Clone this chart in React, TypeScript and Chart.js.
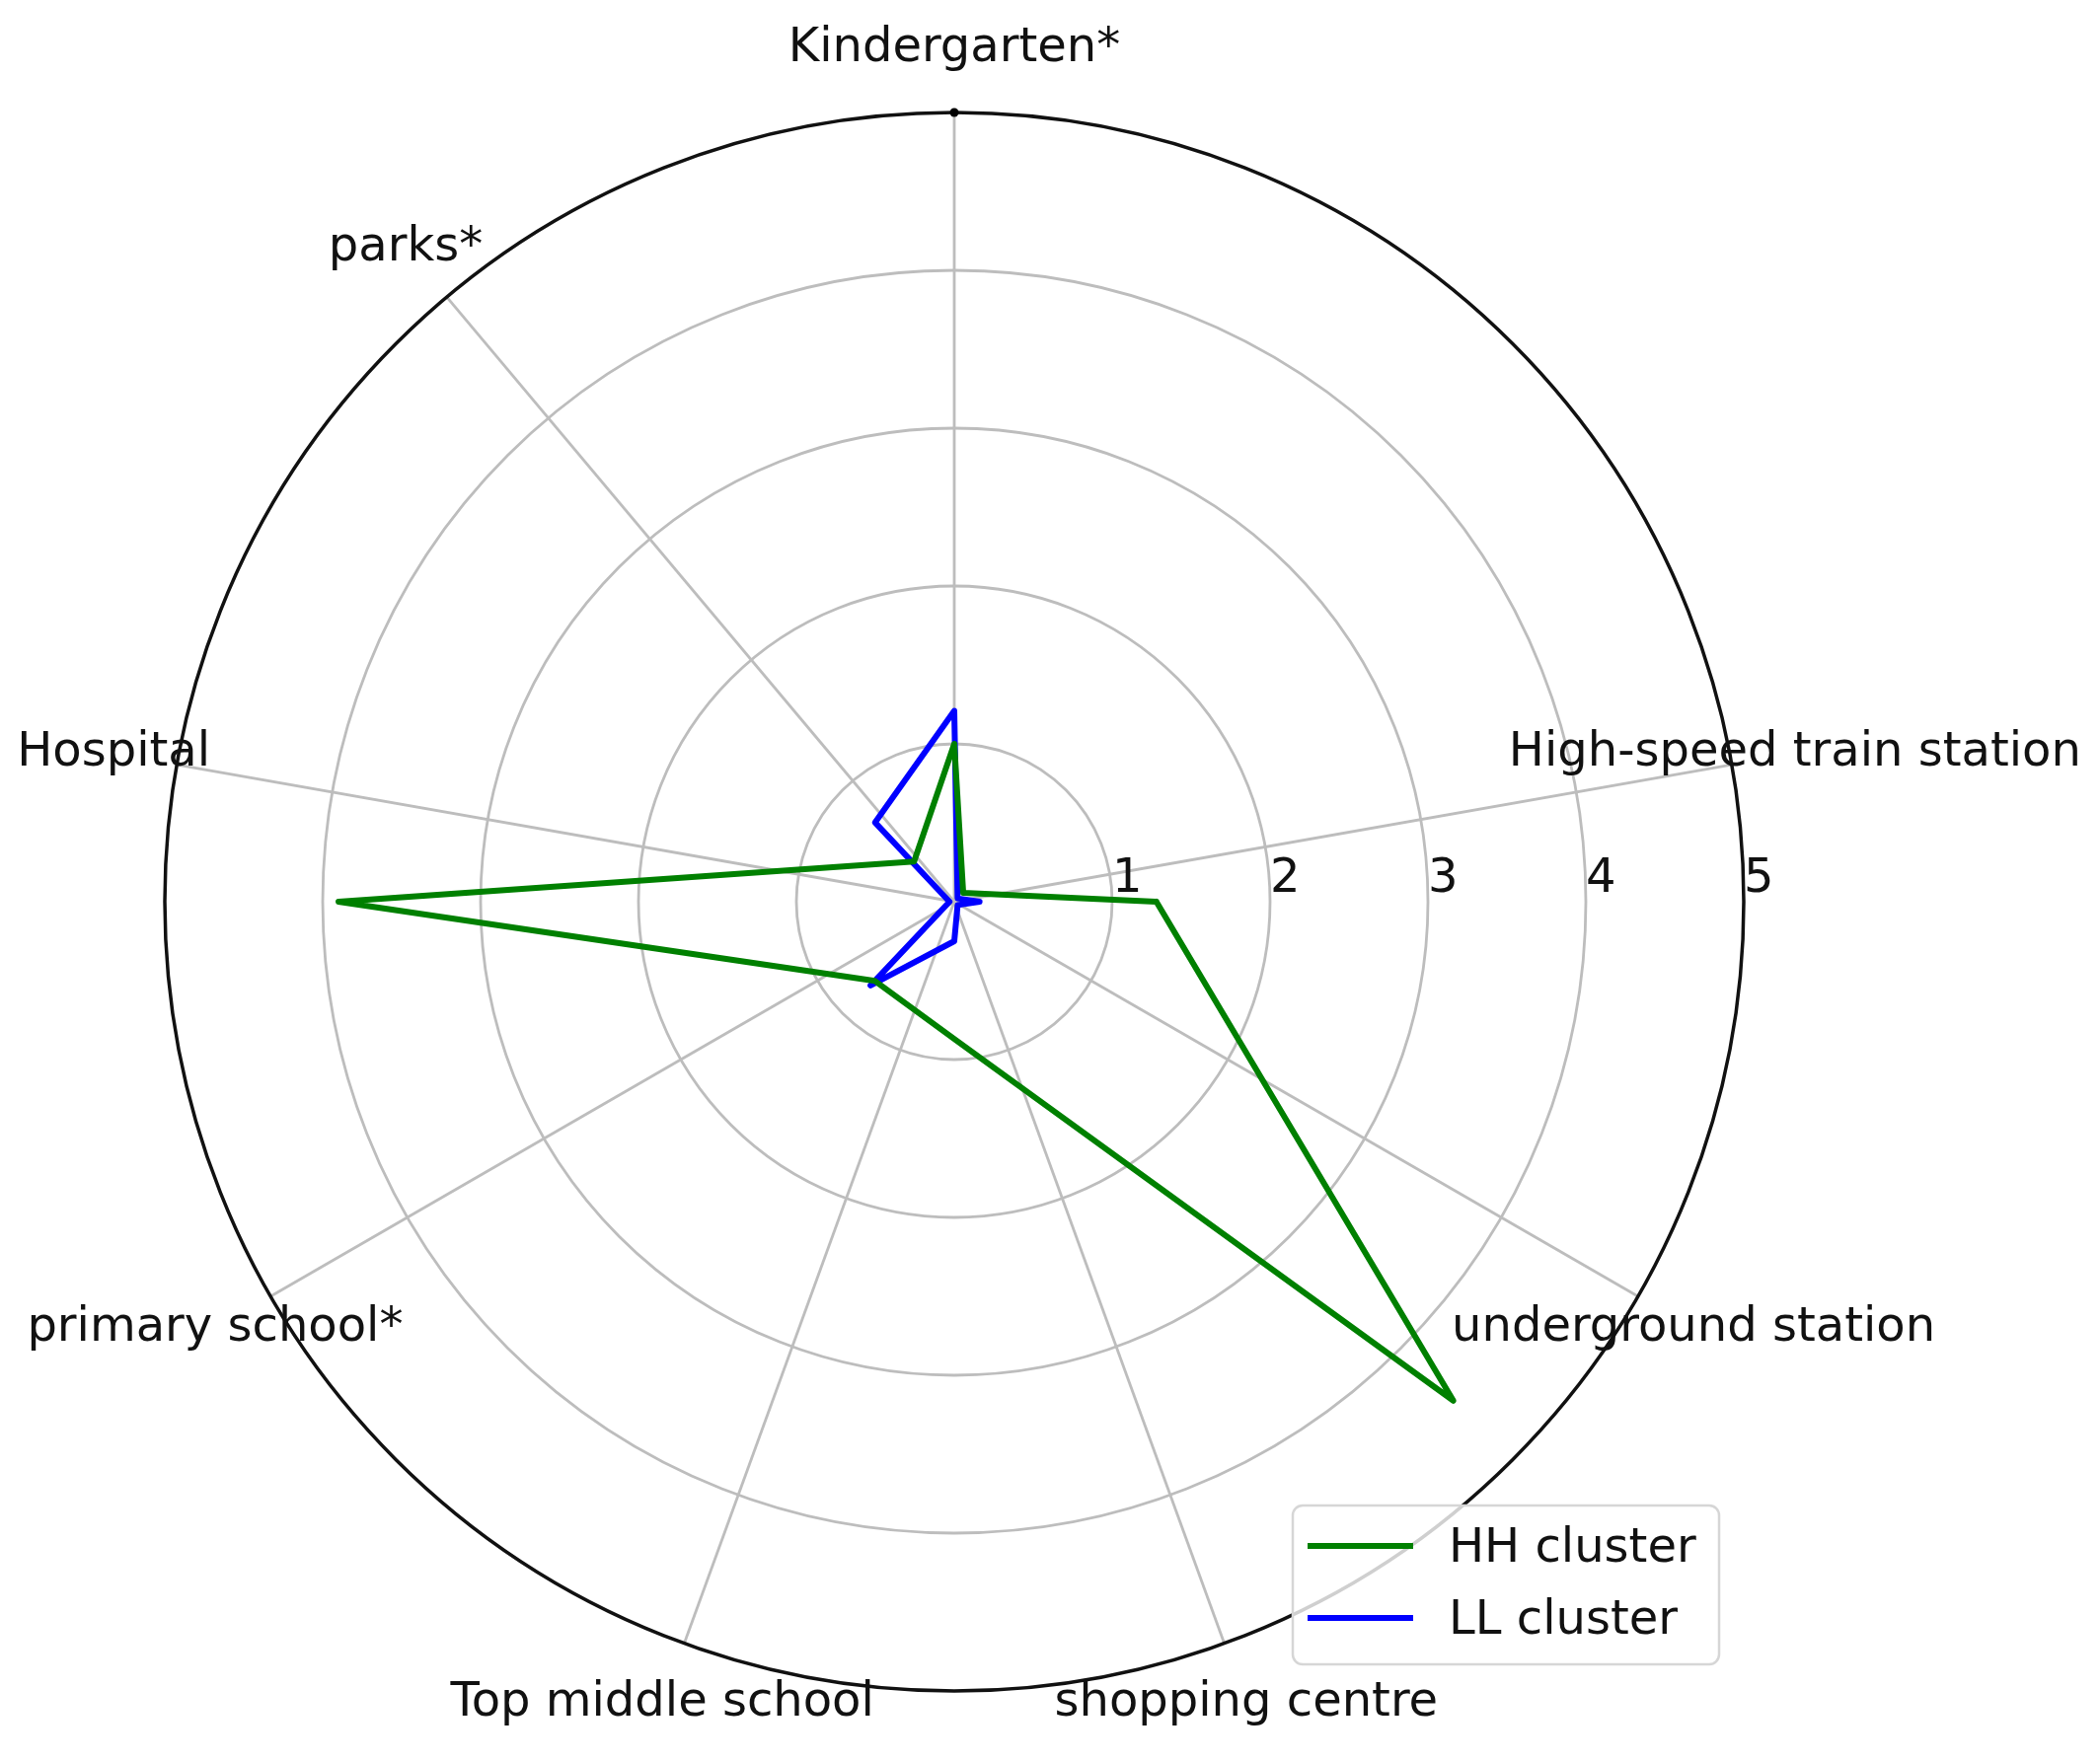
import React, { useEffect, useRef } from "react";
import { Chart, registerables } from "chart.js";

Chart.register(...registerables);

// Category labels, in data order (data point i sits at i * 45°, counter-clockwise from east)
const categories = [
  "High-speed train station",
  "Kindergarten*",
  "parks*",
  "Hospital",
  "primary school*",
  "Top middle school",
  "shopping centre",
  "underground station",
];

// Angles (degrees) of the theta grid lines / labels, one per category
const thetaGridDegrees = [10, 90, 130, 170, 210, 250, 290, 330];

// Series values (radius)
const hhValues = [1.28, 0.08, 1.0, 0.36, 3.9, 0.71, 0.87, 4.47];
const llValues = [0.16, 0.03, 1.21, 0.71, 0.03, 0.75, 0.25, 0.03];

// Radial ticks
const radialTicks = [1, 2, 3, 4, 5];
const rMax = 5;

const seriesNames = ["HH cluster", "LL cluster"];
const seriesColors = ["#008000", "#0000ff"];

const FONT = '48px "DejaVu Sans"';

function toXY(values: number[]) {
  const n = values.length;
  const pts = values.map((r, i) => {
    const t = (i * 2 * Math.PI) / n;
    return { x: r * Math.cos(t), y: r * Math.sin(t) };
  });
  pts.push({ ...pts[0] });
  return pts;
}

const polarPlugin = {
  id: "polarGrid",
  beforeDatasetsDraw(chart: any) {
    const ctx = chart.ctx;
    const xs = chart.scales.x;
    const ys = chart.scales.y;
    const cx = xs.getPixelForValue(0);
    const cy = ys.getPixelForValue(0);
    const unit = xs.getPixelForValue(1) - cx;
    ctx.save();
    ctx.strokeStyle = "#bdbdbd";
    ctx.lineWidth = 2.8;
    // rings
    radialTicks.forEach((t) => {
      if (t >= rMax) return;
      ctx.beginPath();
      ctx.arc(cx, cy, t * unit, 0, Math.PI * 2);
      ctx.stroke();
    });
    // spokes
    thetaGridDegrees.forEach((d) => {
      const a = (d * Math.PI) / 180;
      ctx.beginPath();
      ctx.moveTo(cx, cy);
      ctx.lineTo(cx + rMax * unit * Math.cos(a), cy - rMax * unit * Math.sin(a));
      ctx.stroke();
    });
    ctx.restore();
  },
  afterDatasetsDraw(chart: any) {
    const ctx = chart.ctx;
    const xs = chart.scales.x;
    const ys = chart.scales.y;
    const cx = xs.getPixelForValue(0);
    const cy = ys.getPixelForValue(0);
    const unit = xs.getPixelForValue(1) - cx;
    ctx.save();
    // outer spine
    ctx.strokeStyle = "#111";
    ctx.lineWidth = 3.5;
    ctx.beginPath();
    ctx.arc(cx, cy, rMax * unit, 0, Math.PI * 2);
    ctx.stroke();
    // tick dot at top
    ctx.fillStyle = "#000";
    ctx.beginPath();
    ctx.arc(cx, cy - rMax * unit, 4.5, 0, Math.PI * 2);
    ctx.fill();

    ctx.font = FONT;
    ctx.fillStyle = "#111";
    ctx.textBaseline = "alphabetic";
    // radial tick labels
    ctx.textAlign = "left";
    radialTicks.forEach((t) => {
      ctx.fillText(String(t), cx + t * unit, cy - 10);
    });
    // theta labels
    ctx.textAlign = "center";
    const rl = rMax * unit + 65;
    categories.forEach((c, i) => {
      const a = (thetaGridDegrees[i] * Math.PI) / 180;
      const x = cx + rl * Math.cos(a);
      const y = cy - rl * Math.sin(a);
      ctx.fillText(c, x, y + 12.5);
    });

    // legend
    const bx = 1310, by = 1526, bw = 432, bh = 161, rad = 10;
    ctx.beginPath();
    ctx.moveTo(bx + rad, by);
    ctx.lineTo(bx + bw - rad, by);
    ctx.arcTo(bx + bw, by, bx + bw, by + rad, rad);
    ctx.lineTo(bx + bw, by + bh - rad);
    ctx.arcTo(bx + bw, by + bh, bx + bw - rad, by + bh, rad);
    ctx.lineTo(bx + rad, by + bh);
    ctx.arcTo(bx, by + bh, bx, by + bh - rad, rad);
    ctx.lineTo(bx, by + rad);
    ctx.arcTo(bx, by, bx + rad, by, rad);
    ctx.closePath();
    ctx.fillStyle = "rgba(255,255,255,0.8)";
    ctx.fill();
    ctx.strokeStyle = "#d6d6d6";
    ctx.lineWidth = 2.5;
    ctx.stroke();
    chart.data.datasets.forEach((ds: any, i: number) => {
      const ly = 1567 + i * 73;
      ctx.strokeStyle = ds.borderColor;
      ctx.lineWidth = 6;
      ctx.lineCap = "butt";
      ctx.beginPath();
      ctx.moveTo(1325, ly);
      ctx.lineTo(1432, ly);
      ctx.stroke();
      ctx.fillStyle = "#111";
      ctx.textAlign = "left";
      ctx.fillText(ds.label, 1468, ly + 16);
    });
    ctx.restore();
  },
};

export default function App() {
  const ref = useRef<HTMLCanvasElement | null>(null);
  useEffect(() => {
    if (!ref.current) return;
    const chart = new Chart(ref.current, {
      type: "scatter",
      data: {
        datasets: [hhValues, llValues].map((vals, i) => ({
          label: seriesNames[i],
          data: toXY(vals),
          showLine: true,
          borderColor: seriesColors[i],
          backgroundColor: seriesColors[i],
          borderWidth: 6,
          pointRadius: 0,
          fill: false,
          tension: 0,
          borderJoinStyle: "round",
          borderCapStyle: "round",
        })),
      },
      options: {
        animation: false,
        responsive: false,
        devicePixelRatio: 1,
        layout: { padding: { left: 167, right: 361, top: 114, bottom: 72 } },
        scales: {
          x: { type: "linear", min: -rMax, max: rMax, display: false },
          y: { type: "linear", min: -rMax, max: rMax, display: false },
        },
        plugins: {
          legend: { display: false },
          tooltip: { enabled: false },
        },
      },
      plugins: [polarPlugin],
    } as any);
    return () => chart.destroy();
  }, []);
  return (
    <div style={{ position: "absolute", left: 0, top: 0, width: 2128, height: 1786, background: "#fff" }}>
      <canvas ref={ref} width={2128} height={1786} />
    </div>
  );
}
